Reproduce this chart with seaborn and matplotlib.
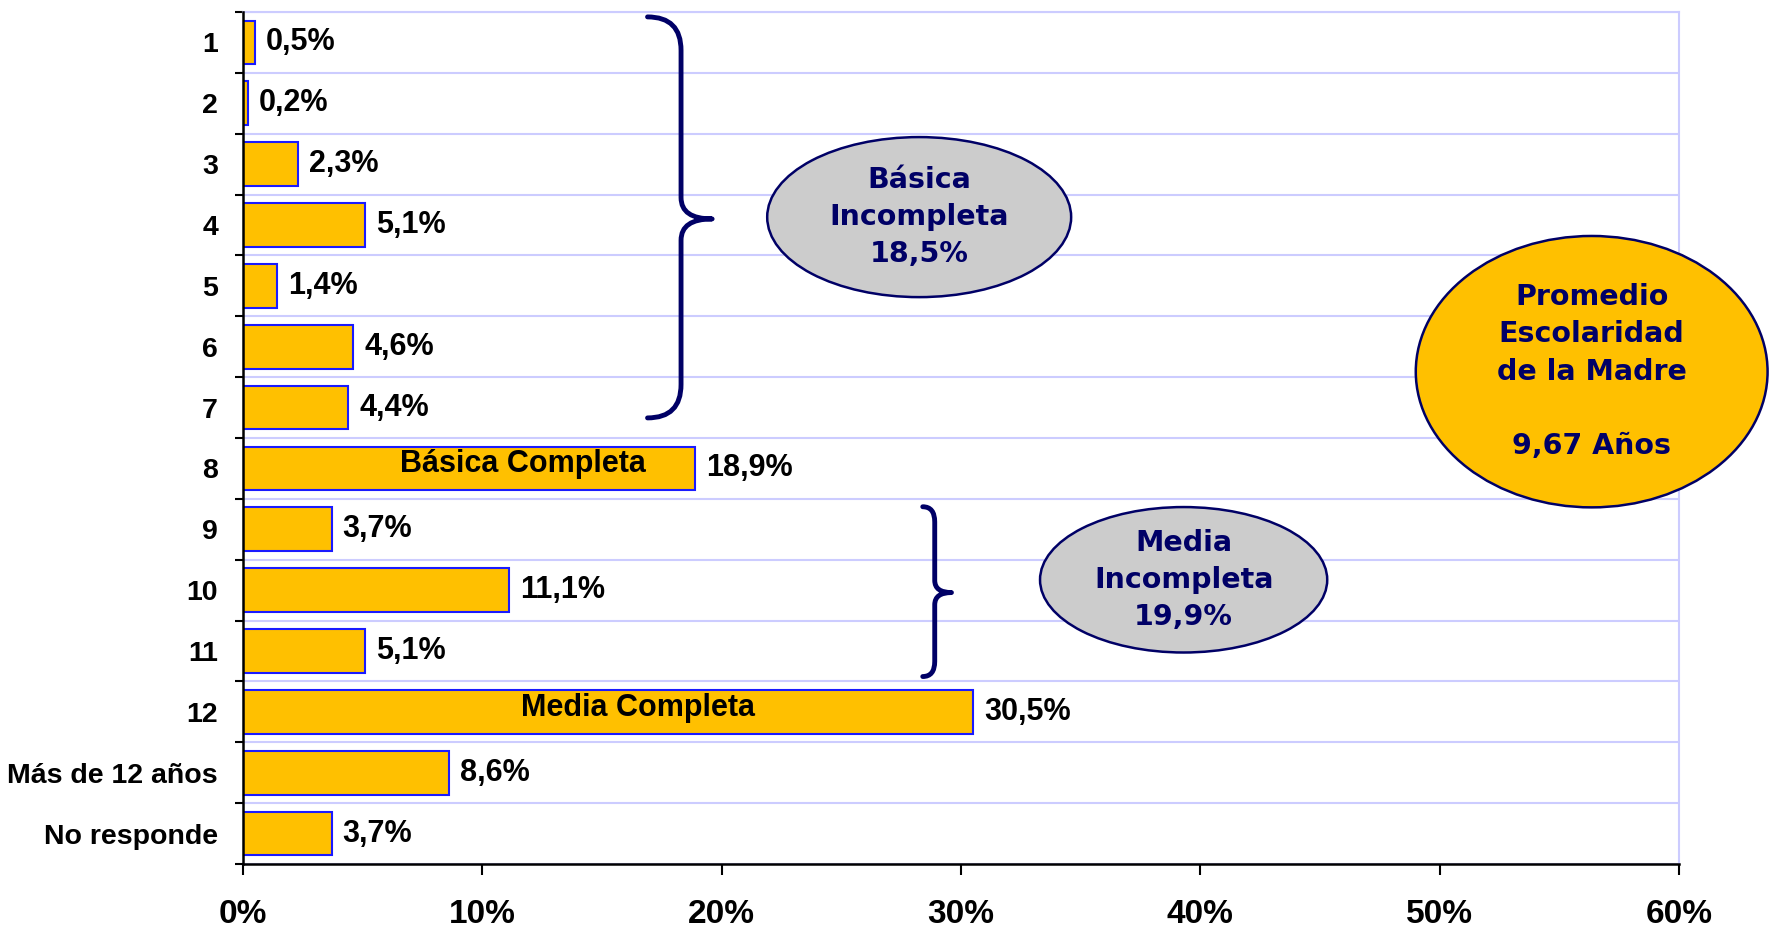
"""
Escolaridad de la madre - distribucion por anos de estudio
"""

import matplotlib
matplotlib.use('Agg')
import matplotlib.pyplot as plt
import seaborn as sns
from matplotlib.patches import Ellipse, PathPatch
from matplotlib.path import Path

# data
categories = ['1', '2', '3', '4', '5', '6', '7', '8', '9', '10', '11', '12',
              'Más de 12 años', 'No responde']
percentages = [0.5, 0.2, 2.3, 5.1, 1.4, 4.6, 4.4, 18.9, 3.7, 11.1, 5.1, 30.5, 8.6, 3.7]
x_ticks = [0, 10, 20, 30, 40, 50, 60]
inner_labels = ['Básica Completa', 'Media Completa']
inner_rows = ['8', '12']
group_texts = ['Básica\nIncompleta\n18,5%', 'Media\nIncompleta\n19,9%']
average_text = 'Promedio\nEscolaridad\nde la Madre\n\n9,67 Años'

BAR = '#FFC000'
EDGE = '#1a1aff'
NAVY = '#000066'
GRID = '#ccccff'

sns.set_theme(style='white')
plt.rcParams['font.family'] = ['Liberation Sans', 'DejaVu Sans']
plt.rcParams['text.color'] = 'black'

fig = plt.figure(figsize=(17.73, 9.33), dpi=100)
ax = fig.add_axes([0.1371, 0.074, 0.8099, 0.9131])

sns.barplot(x=percentages, y=categories, orient='h', color=BAR, saturation=1,
            edgecolor=EDGE, linewidth=1.5, width=0.72, ax=ax, zorder=3)

ax.set_xlim(0, 60)
ax.set_ylim(13.5, -0.5)

# value labels
for i, v in enumerate(percentages):
    ax.annotate(f'{v:.1f}'.replace('.', ',') + '%', (v, i), xytext=(8, 0),
                textcoords='offset points', va='center', ha='left',
                fontsize=22, fontweight='bold', color='black', zorder=5)

# text inside the two long bars
for lab, row, xpos in zip(inner_labels, inner_rows, [11.7, 16.5]):
    ax.text(xpos, categories.index(row) - 0.07, lab, ha='center', va='center',
            fontsize=22, fontweight='bold', color='black', zorder=5)

# axes styling
ax.set_xticks(x_ticks)
ax.set_xticklabels([f'{t}%' for t in x_ticks], fontsize=24, fontweight='bold')
ax.tick_params(axis='x', direction='out', length=8, width=1.5, color='black',
               labelcolor='black', pad=17, bottom=True)
ax.set_yticks(range(len(categories)))
ax.set_yticklabels(categories, fontsize=20.5, fontweight='bold')
ax.tick_params(axis='y', which='major', length=0, pad=18, labelcolor='black')
ax.set_yticks([i - 0.5 for i in range(len(categories) + 1)], minor=True)
ax.tick_params(axis='y', which='minor', direction='out', length=6, width=1.5,
               color='black', left=True)
ax.grid(False)
ax.yaxis.grid(True, which='minor', color=GRID, linewidth=1.5, zorder=0)
ax.set_axisbelow(True)
ax.set_xlabel('')
ax.set_ylabel('')
for lbl in ax.get_yticklabels():
    lbl.set_y(lbl.get_position()[1])

for side in ['left', 'bottom']:
    ax.spines[side].set_color('black')
    ax.spines[side].set_linewidth(1.8)
    ax.spines[side].set_zorder(6)
for side in ['top', 'right']:
    ax.spines[side].set_color(GRID)
    ax.spines[side].set_linewidth(1.5)


def brace(ax, x0, x1, xtip, ytop, ybot, ymid, r_end, r_mid, lw):
    """Right-pointing curly brace in data coords"""
    verts = [(x0, ytop), (x1, ytop), (x1, ytop + r_end),
             (x1, ymid - r_mid), (x1, ymid), (xtip, ymid),
             (x1, ymid), (x1, ymid + r_mid),
             (x1, ybot - r_end), (x1, ybot), (x0, ybot)]
    codes = [Path.MOVETO, Path.CURVE3, Path.CURVE3,
             Path.LINETO, Path.CURVE3, Path.CURVE3,
             Path.CURVE3, Path.CURVE3,
             Path.LINETO, Path.CURVE3, Path.CURVE3]
    ax.add_patch(PathPatch(Path(verts, codes), fill=False, edgecolor=NAVY,
                           linewidth=lw, capstyle='round', joinstyle='round',
                           zorder=4))


brace(ax, 16.9, 18.3, 19.6, -0.42, 6.17, 2.90, 0.55, 0.35, 3.5)
brace(ax, 28.4, 28.9, 29.6, 7.63, 10.42, 9.04, 0.25, 0.2, 3.5)

# group ellipses
ax.add_patch(Ellipse((28.25, 2.87), 12.7, 2.63, facecolor='#cccccc',
                     edgecolor=NAVY, linewidth=1.8, zorder=4))
ax.text(28.25, 2.87, group_texts[0], ha='center', va='center', fontsize=20.5,
        fontweight='bold', color=NAVY, family='DejaVu Sans', linespacing=1.4,
        zorder=5)
ax.add_patch(Ellipse((39.3, 8.83), 12.0, 2.39, facecolor='#cccccc',
                     edgecolor=NAVY, linewidth=1.8, zorder=4))
ax.text(39.3, 8.83, group_texts[1], ha='center', va='center', fontsize=20.5,
        fontweight='bold', color=NAVY, family='DejaVu Sans', linespacing=1.4,
        zorder=5)

ax.add_patch(Ellipse((56.35, 5.41), 14.7, 4.46, facecolor=BAR,
                     edgecolor=NAVY, linewidth=1.8, zorder=4, clip_on=False))
ax.text(56.35, 5.41, average_text, ha='center', va='center', fontsize=20.5,
        fontweight='bold', color=NAVY, family='DejaVu Sans', linespacing=1.42,
        zorder=5, clip_on=False)

fig.savefig('out.png', dpi=100)
